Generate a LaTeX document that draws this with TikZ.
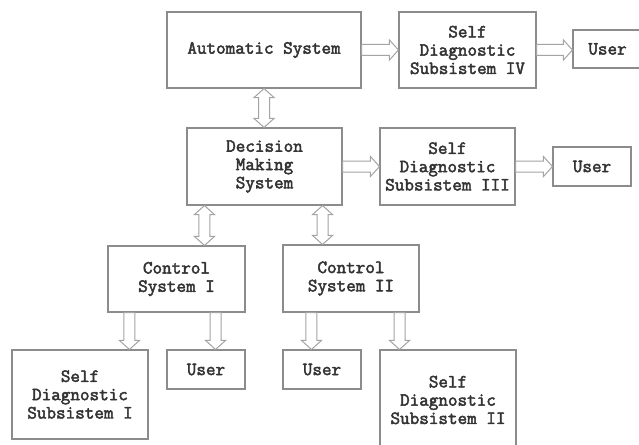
\documentclass[tikz,border=0pt]{standalone}
\usepackage{fontspec}
\newfontfamily\boxfont{Latin Modern Mono}[AutoFakeBold=2.5]
\usetikzlibrary{calc}

\definecolor{boxline}{HTML}{8C8C8C}
\definecolor{arrowline}{HTML}{A4A4A4}
\definecolor{txt}{HTML}{333333}

\tikzset{
  blk/.style={draw=boxline, line width=1.1pt, inner sep=0pt, align=center,
    text=txt, font=\boxfont\bfseries\fontsize{18.6}{18.3}\selectfont},
  fat/.style={draw=arrowline, line width=1pt, line join=miter, fill=white},
}

% hollow block arrow from #1 to #2 (head at #2)
\newcommand\fatone[2]{%
  \coordinate (fh) at ($(#2)!9pt!(#1)$);
  \draw[fat] ($(#1)!5.5pt!90:(#2)$) -- ($(fh)!5.5pt!90:(#2)$)
    -- ($(fh)!10pt!90:(#2)$) -- (#2) -- ($(fh)!10pt!-90:(#2)$)
    -- ($(fh)!5.5pt!-90:(#2)$) -- ($(#1)!5.5pt!-90:(#2)$) -- cycle;}

% hollow block arrow with heads at both ends
\newcommand\fattwo[2]{%
  \coordinate (fa) at ($(#1)!9pt!(#2)$);
  \coordinate (fb) at ($(#2)!9pt!(#1)$);
  \draw[fat] (#1) -- ($(fa)!10pt!90:(#2)$) -- ($(fa)!5.5pt!90:(#2)$)
    -- ($(fb)!5.5pt!90:(#2)$) -- ($(fb)!10pt!90:(#2)$) -- (#2)
    -- ($(fb)!10pt!-90:(#2)$) -- ($(fb)!5.5pt!-90:(#2)$)
    -- ($(fa)!5.5pt!-90:(#2)$) -- ($(fa)!10pt!-90:(#2)$) -- cycle;}

\begin{document}
\begin{tikzpicture}[x=1pt, y=-1pt]
\useasboundingbox (0,0) rectangle (639,444);
\fill[white] (0,0) rectangle (639,444);

% blocks
\node[blk, minimum width=194pt, minimum height=76pt] (auto) at (264,50) {Automatic System};
\node[blk, minimum width=137pt, minimum height=76pt] (sd4) at (467.5,50) {Self\\Diagnostic\\Subsistem IV};
\node[blk, minimum width=69pt, minimum height=38pt] (u1) at (607.5,49) {User};

\node[blk, minimum width=155pt, minimum height=77pt] (dec) at (264.5,166.5) {Decision\\Making\\System};
\node[blk, minimum width=135pt, minimum height=77pt] (sd3) at (447.5,166.5) {Self\\Diagnostic\\Subsistem III};
\node[blk, minimum width=78pt, minimum height=39pt] (u2) at (592,166.5) {User};

\node[blk, minimum width=137pt, minimum height=66pt] (ctl1) at (176.5,279) {Control\\System I};
\node[blk, minimum width=136pt, minimum height=67pt] (ctl2) at (351,278.5) {Control\\System II};

\node[blk, minimum width=136pt, minimum height=89pt] (sd1) at (80,394.5) {Self\\Diagnostic\\Subsistem I};
\node[blk, minimum width=78pt, minimum height=39pt] (u3) at (206,369.5) {User};
\node[blk, minimum width=78pt, minimum height=39pt] (u4) at (322,369.5) {User};
\node[blk, minimum width=136pt, minimum height=100pt] (sd2) at (448,400) {Self\\Diagnostic\\Subsistem II};

% arrow end points on the block edges
\coordinate (a2t) at (sd4.east -| u1.west);
\coordinate (a3t) at (auto.south |- dec.north);
\coordinate (a4t) at (dec.east -| sd3.west);
\coordinate (a6s) at ([xshift=18pt]dec.south west);
\coordinate (a6t) at (a6s |- ctl1.north);
\coordinate (a7s) at ([xshift=-20pt]dec.south east);
\coordinate (a7t) at (a7s |- ctl2.north);
\coordinate (a8s) at ([xshift=22pt]ctl1.south west);
\coordinate (a8t) at (a8s |- sd1.north);
\coordinate (a9s) at ([xshift=-30pt]ctl1.south east);
\coordinate (a9t) at (a9s |- u3.north);
\coordinate (a10s) at ([xshift=29pt]ctl2.south west);
\coordinate (a10t) at (a10s |- u4.north);
\coordinate (a11s) at ([xshift=-20pt]ctl2.south east);
\coordinate (a11t) at (a11s |- sd2.north);

% connectors
\fatone{auto.east}{sd4.west}
\fatone{sd4.east}{a2t}
\fattwo{auto.south}{a3t}
\fatone{dec.east}{a4t}
\fatone{sd3.east}{u2.west}
\fattwo{a6s}{a6t}
\fattwo{a7s}{a7t}
\fatone{a8s}{a8t}
\fatone{a9s}{a9t}
\fatone{a10s}{a10t}
\fatone{a11s}{a11t}
\end{tikzpicture}
\end{document}
